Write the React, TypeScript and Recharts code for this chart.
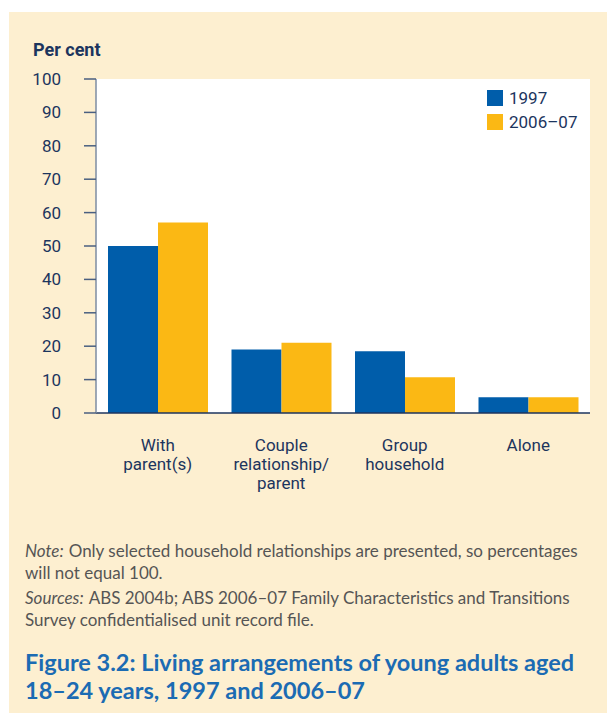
import React from "react";
import { BarChart, Bar, XAxis, YAxis, CartesianGrid } from "recharts";

const categories = ["With parent(s)", "Couple relationship/parent", "Group household", "Alone"];
const categoryLines = [["With", "parent(s)"], ["Couple", "relationship/", "parent"], ["Group", "household"], ["Alone"]];
const values1997 = [50, 19, 18.5, 4.7];
const values2006 = [57, 21, 10.7, 4.7];
const yTicks = [0, 10, 20, 30, 40, 50, 60, 70, 80, 90, 100];
const seriesNames = ["1997", "2006–07"];

const data = categories.map((c, i) => ({ name: c, a: values1997[i], b: values2006[i] }));

const NAVY = "#1c355e";
const BLUE = "#005daa";
const YELLOW = "#fbb814";
const BG = "#fdefd0";
const COND = "Roboto, 'Liberation Sans Narrow', sans-serif";

const CatTick = (props: any) => {
  const { x, y, index } = props;
  const lines = categoryLines[index] || [];
  return (
    <text x={x} y={y} textAnchor="middle" fill={NAVY} fontFamily={COND} fontSize={17}>
      {lines.map((l, i) => (
        <tspan key={i} x={x} dy={i === 0 ? 30 : 19}>{l}</tspan>
      ))}
    </text>
  );
};

export default function App() {
  return (
    <div style={{ position: "absolute", left: 9, top: 12, width: 598, height: 701, background: BG, overflow: "hidden" }}>
      <div style={{ position: "absolute", left: 24, top: 27, fontFamily: COND, fontWeight: "bold", fontSize: 18, color: NAVY }}>
        Per cent
      </div>
      <div style={{ position: "absolute", left: 0, top: 0 }}>
        <BarChart
          width={598}
          height={511}
          data={data}
          margin={{ top: 67, right: 17, left: 0, bottom: 0 }}
          barCategoryGap={12}
          barGap={0}
        >
          <CartesianGrid fill="#ffffff" horizontal={false} vertical={false} stroke="none" />
          <XAxis
            dataKey="name"
            height={110}
            tickLine={false}
            axisLine={{ stroke: NAVY, strokeWidth: 1.5 }}
            tick={<CatTick />}
            interval={0}
          />
          <YAxis
            width={87}
            domain={[0, 100]}
            ticks={yTicks}
            interval={0}
            tickSize={12}
            tickMargin={23}
            tickLine={{ stroke: "#4a5f80", strokeWidth: 1.5 }}
            axisLine={{ stroke: "#7d8ca3", strokeWidth: 1.5 }}
            tick={{ fill: NAVY, fontFamily: COND, fontSize: 17 }}
          />
          <Bar dataKey="a" name={seriesNames[0]} fill={BLUE} isAnimationActive={false} />
          <Bar dataKey="b" name={seriesNames[1]} fill={YELLOW} isAnimationActive={false} />
        </BarChart>
      </div>
      <div style={{ position: "absolute", left: 478, top: 74, fontFamily: COND, fontSize: 17, color: NAVY }}>
        {seriesNames.map((n, i) => (
          <div key={n} style={{ display: "flex", alignItems: "center", height: 24 }}>
            <div style={{ width: 16, height: 16, background: i === 0 ? BLUE : YELLOW, marginRight: 6 }} />
            <span>{n}</span>
          </div>
        ))}
      </div>
      <div style={{ position: "absolute", left: 16, top: 528, width: 560, fontFamily: "Lato, sans-serif", fontSize: 17, lineHeight: "22px", color: "#555555" }}>
        <div><i style={{ marginRight: 5 }}>Note:</i>Only selected household relationships are presented, so percentages will not equal 100.</div>
        <div style={{ marginTop: 3 }}><i style={{ marginRight: 5 }}>Sources:</i>ABS 2004b; ABS 2006–07 Family Characteristics and Transitions Survey confidentialised unit record file.</div>
      </div>
      <div style={{ position: "absolute", left: 16, top: 636, width: 575, fontFamily: "Lato, sans-serif", fontWeight: "bold", fontSize: 23.5, lineHeight: "28px", color: "#1b6bb3" }}>
        Figure 3.2: Living arrangements of young adults aged 18–24 years, 1997 and 2006–07
      </div>
    </div>
  );
}
